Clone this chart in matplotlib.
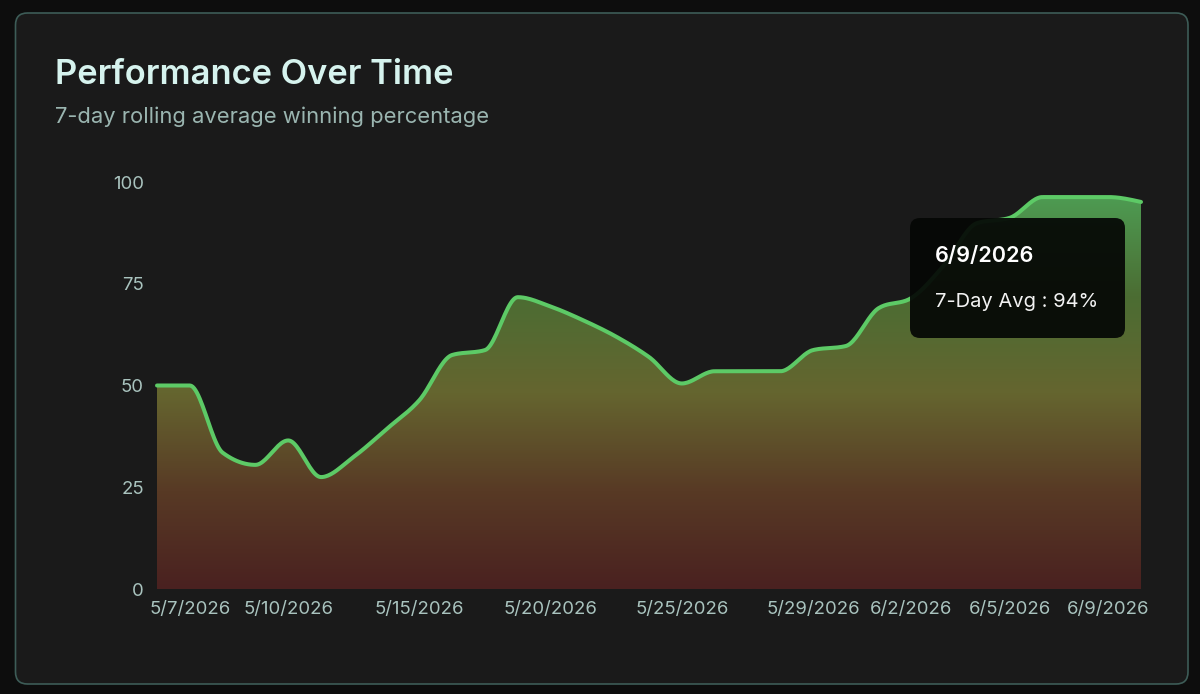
import numpy as np
import matplotlib
matplotlib.use("Agg")
import matplotlib.pyplot as plt
from matplotlib.patches import FancyBboxPatch, PathPatch
from matplotlib.path import Path
from matplotlib.colors import LinearSegmentedColormap

plt.rcParams['font.family'] = ['Inter', 'DejaVu Sans']

# data
dates = ['5/6/2026', '5/7/2026', '5/8/2026', '5/9/2026', '5/10/2026', '5/11/2026',
         '5/12/2026', '5/13/2026', '5/15/2026', '5/16/2026', '5/17/2026', '5/18/2026',
         '5/20/2026', '5/21/2026', '5/22/2026', '5/23/2026', '5/25/2026', '5/26/2026',
         '5/27/2026', '5/28/2026', '5/29/2026', '5/30/2026', '6/1/2026', '6/2/2026',
         '6/3/2026', '6/4/2026', '6/5/2026', '6/6/2026', '6/8/2026', '6/9/2026',
         '6/10/2026']
avg_pct = [50, 50, 33.5, 30.5, 36.5, 27.5, 32.5, 39.3, 46.4, 57.5, 58.7, 71.7,
           69.4, 66, 62, 57, 50.5, 53.5, 53.5, 53.5, 58.7, 59.7, 69, 71.5,
           79.6, 89.9, 91.2, 96.3, 96.3, 96.3, 95.1]
shown_dates = ['5/7/2026', '5/10/2026', '5/15/2026', '5/20/2026', '5/25/2026',
               '5/29/2026', '6/2/2026', '6/5/2026', '6/9/2026']
y_ticks = [0, 25, 50, 75, 100]

title = "Performance Over Time"
subtitle = "7-day rolling average winning percentage"
tip_date = "6/9/2026"
tip_text = "7-Day Avg : 94%"


def monotone_curve(x, y, n=24):
    # d3 curveMonotoneX
    x = np.asarray(x, float)
    y = np.asarray(y, float)
    h = np.diff(x)
    s = np.diff(y) / h
    t = np.zeros(len(x))
    for i in range(1, len(x) - 1):
        s0, s1 = s[i - 1], s[i]
        p = (s0 * h[i] + s1 * h[i - 1]) / (h[i - 1] + h[i])
        t[i] = (np.sign(s0) + np.sign(s1)) * min(abs(s0), abs(s1), 0.5 * abs(p))
    t[0] = (3 * s[0] - t[1]) / 2
    t[-1] = (3 * s[-1] - t[-2]) / 2
    xs, ys = [x[0]], [y[0]]
    u = np.linspace(0, 1, n)[1:]
    for i in range(len(x) - 1):
        dx = h[i] / 3
        p0 = np.array([x[i], y[i]])
        p1 = np.array([x[i] + dx, y[i] + t[i] * dx])
        p2 = np.array([x[i + 1] - dx, y[i + 1] - t[i + 1] * dx])
        p3 = np.array([x[i + 1], y[i + 1]])
        b = ((1 - u)[:, None] ** 3 * p0 + 3 * ((1 - u) ** 2 * u)[:, None] * p1
             + 3 * ((1 - u) * u ** 2)[:, None] * p2 + (u ** 3)[:, None] * p3)
        xs.extend(b[:, 0])
        ys.extend(b[:, 1])
    return np.array(xs), np.array(ys)


W, H = 1200, 694
fig = plt.figure(figsize=(W / 100, H / 100), dpi=100, facecolor='#0d0d0d')

# background card
bg = fig.add_axes([0, 0, 1, 1], zorder=0)
bg.set_xlim(0, W)
bg.set_ylim(H, 0)
bg.axis('off')
bg.add_patch(FancyBboxPatch((15.5, 13), 1172.5, 671, boxstyle="round,pad=0,rounding_size=12",
                            facecolor='#1a1a1a', edgecolor='#3d5c57', linewidth=1.2))
bg.text(55, 84, title, fontsize=24.8, fontweight='semibold', color='#d6f3ee', va='baseline')
bg.text(55, 123, subtitle, fontsize=15.8, color='#9ab5b0', va='baseline')

# chart area
x0_px, x1_px, y0_px, y1_px = 157, 1141, 589, 182
ax = fig.add_axes([x0_px / W, 1 - y0_px / H, (x1_px - x0_px) / W, (y0_px - y1_px) / H], zorder=1)
ax.patch.set_alpha(0)
xi = np.arange(len(dates))
ax.set_xlim(0, len(dates) - 1)
ax.set_ylim(0, 100)

cx, cy = monotone_curve(xi, avg_pct)
top = max(avg_pct)

grad = LinearSegmentedColormap.from_list('g', [
    (0.0, '#4a2120'), (0.25, '#583a25'), (0.5, '#65652f'),
    (0.75, '#4b6d33'), (1.0, '#4e9b52')])
img = ax.imshow(np.linspace(0, 1, 256)[:, None], cmap=grad, origin='lower', aspect='auto',
                extent=(0, len(dates) - 1, 0, top), zorder=1)
verts = np.column_stack([np.r_[cx, cx[-1], cx[0], cx[0]], np.r_[cy, 0, 0, cy[0]]])
codes = [Path.MOVETO] + [Path.LINETO] * (len(verts) - 2) + [Path.CLOSEPOLY]
clip = PathPatch(Path(verts, codes), transform=ax.transData, facecolor='none', edgecolor='none')
ax.add_patch(clip)
img.set_clip_path(clip)

ax.plot(cx, cy, color='#5dca66', linewidth=2.9, solid_capstyle='round', zorder=3, clip_on=False)

for sp in ax.spines.values():
    sp.set_visible(False)
ax.set_yticks(y_ticks)
ax.set_xticks([dates.index(d) for d in shown_dates])
ax.set_xticklabels(shown_dates)
ax.tick_params(axis='both', length=0, labelsize=13.4, labelcolor='#a9c3be')
ax.tick_params(axis='y', pad=9.5)
ax.tick_params(axis='x', pad=8.5)

# tooltip overlay
fg = fig.add_axes([0, 0, 1, 1], zorder=2)
fg.set_xlim(0, W)
fg.set_ylim(H, 0)
fg.axis('off')
fg.add_patch(FancyBboxPatch((910, 218), 215, 120, boxstyle="round,pad=0,rounding_size=10",
                            facecolor='#050705', edgecolor='none', alpha=0.93))
fg.text(935, 262, tip_date, fontsize=15.6, fontweight='semibold', color='#ffffff', va='baseline')
fg.text(935, 307, tip_text, fontsize=14.5, color='#f2f2f2', va='baseline')

fig.savefig('out.png', dpi=100, facecolor=fig.get_facecolor())
